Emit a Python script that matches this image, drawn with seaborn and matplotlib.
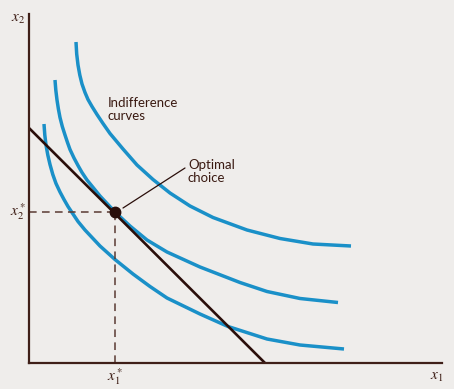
import matplotlib
matplotlib.use("Agg")
import matplotlib.pyplot as plt
import seaborn as sns
import pandas as pd

# ---- data (arbitrary units) ----
top_x = [47, 47.7, 49, 50.8, 53, 56, 59, 63, 68, 74, 81, 94, 108, 124, 141, 161, 184, 218, 251, 284, 322]
top_y = [321, 309, 298, 288, 279, 270.5, 263.5, 256.5, 248.5, 239.5, 229.5, 214, 198, 183.5, 170, 157, 145.5, 133, 124.5, 119, 117]

mid_x = [26, 26.8, 28, 29.4, 31, 33.3, 36, 38.5, 41, 45, 49, 53, 58, 71, 86, 101, 118, 138, 171, 211, 238, 271, 309]
mid_y = [283, 273, 263, 254, 245.5, 236.5, 228, 220.5, 213.5, 205, 197.5, 190.5, 183, 167, 151, 137, 123, 111, 96, 80.5, 71.5, 64.5, 60.5]

low_x = [15, 15.8, 17, 18.8, 21, 23.8, 27, 31, 35, 39, 43, 49, 56, 71, 86, 104, 121, 138, 171, 199, 238, 271, 315]
low_y = [239, 228, 218, 208, 198.5, 188.5, 179.5, 171, 163.5, 156.5, 150.5, 141.5, 133, 117, 103.5, 89, 76.5, 65, 49, 36.5, 24, 18, 14]

budget_x = [0, 236]
budget_y = [235, 0]

opt_x = 86
opt_y = 151

x_max = 413
y_max = 349

BG = "#efedeb"
BLUE = "#1a90c8"
DARK = "#2a0e0a"
AXIS = "#3f1f18"

sns.set_theme(style="white", rc={"axes.facecolor": BG, "figure.facecolor": BG})
plt.rcParams["font.family"] = ["Lato", "DejaVu Sans"]
plt.rcParams["mathtext.fontset"] = "stix"

fig = plt.figure(figsize=(4.54, 3.89), dpi=100)
ax = fig.add_axes([29 / 454, 26 / 389, 413 / 454, 349 / 389])

curves = pd.concat([
    pd.DataFrame({"x": top_x, "y": top_y, "c": "top"}),
    pd.DataFrame({"x": mid_x, "y": mid_y, "c": "mid"}),
    pd.DataFrame({"x": low_x, "y": low_y, "c": "low"}),
])
for name, g in curves.groupby("c"):
    sns.lineplot(data=g, x="x", y="y", sort=False, color=BLUE, lw=2.5, ax=ax,
                 solid_capstyle="butt", solid_joinstyle="round")

sns.lineplot(x=budget_x, y=budget_y, sort=False, color=DARK, lw=1.9, ax=ax)

# dashed guides
ax.plot([0, opt_x], [opt_y, opt_y], color="#5a3a32", lw=1.1, ls=(0, (5, 3.5)))
ax.plot([opt_x, opt_x], [0, opt_y], color="#5a3a32", lw=1.1, ls=(0, (5, 3.5)))

ax.plot([opt_x], [opt_y], "o", color=DARK, ms=7.5, zorder=5)

# leader line
ax.plot([94, 156], [155, 195], color=DARK, lw=0.9)

ax.set_xlim(0, x_max)
ax.set_ylim(0, y_max)
ax.set_xticks([])
ax.set_yticks([])
ax.set_xlabel("")
ax.set_ylabel("")
for s in ["top", "right"]:
    ax.spines[s].set_visible(False)
for s in ["left", "bottom"]:
    ax.spines[s].set_color(AXIS)
    ax.spines[s].set_linewidth(1.6)

txt = dict(color="#3a1a12", fontsize=9.5)
ax.text(79, 266, "Indifference\ncurves", ha="left", va="top", linespacing=1.15, **txt)
ax.text(159, 204, "Optimal\nchoice", ha="left", va="top", linespacing=1.1, **txt)

mt = dict(color="#3a1a12", fontsize=11)
fig.text(18 / 454, 1 - 19 / 389, "$x_2$", ha="center", va="center", **mt)
fig.text(437 / 454, 1 - 377 / 389, "$x_1$", ha="center", va="center", **mt)
fig.text(18 / 454, 1 - 212 / 389, "$x_2^*$", ha="center", va="center", **mt)
fig.text(115 / 454, 1 - 377 / 389, "$x_1^*$", ha="center", va="center", **mt)

fig.savefig("out.png", dpi=100, facecolor=BG)
